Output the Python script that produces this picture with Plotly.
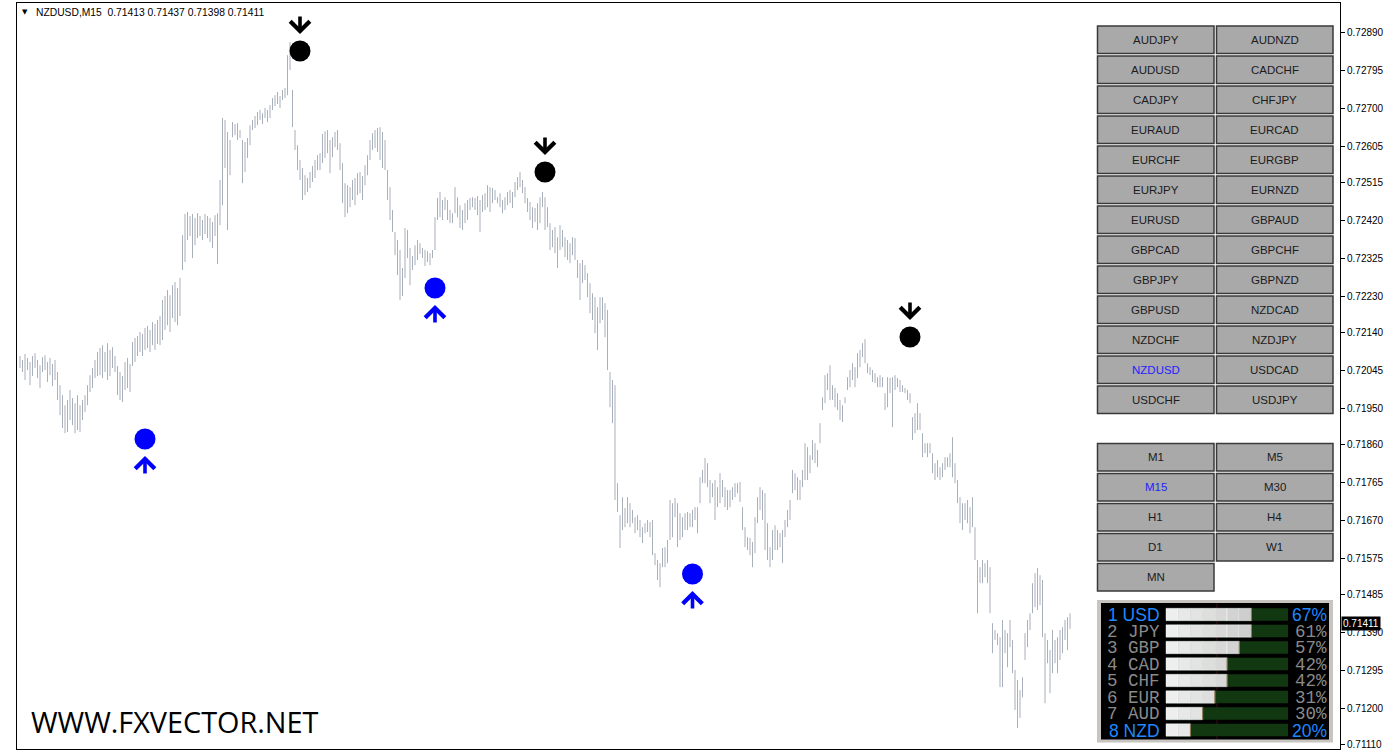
import math

import plotly.graph_objs as go

# header of the chart window
SYMBOL = "NZDUSD,M15"
LAST_OHLC = ["0.71413", "0.71437", "0.71398", "0.71411"]
LAST_PRICE = 0.71411
WATERMARK = "WWW.FXVECTOR.NET"

# M15 bars, left to right: high / low in points above 0.71000
bar_high = [
    1080, 1070, 1085, 1075, 1065, 1080, 1087, 1070, 1057, 1077, 1082, 1065, 1075, 1060, 1070,
    1040, 1007, 982, 957, 970, 995, 975, 962, 982, 957,
    970, 982, 1007, 1032, 1050, 1070, 1090,
    1100, 1107, 1090, 1112, 1095, 1102, 1080,
    1055, 1040, 1030, 1065, 1075, 1060,
    1115, 1125, 1130, 1140, 1135, 1150, 1155, 1145, 1165, 1160, 1170,
    1180, 1220, 1230, 1245, 1232, 1257, 1265, 1250, 1275,
    1382, 1435, 1440, 1430, 1435, 1425, 1437, 1430, 1420, 1435, 1430, 1425, 1415, 1432, 1437,
    1520, 1675, 1670, 1640, 1620,
    1665, 1660, 1662, 1645, 1620, 1615, 1625, 1657,
    1670, 1680, 1690, 1695, 1687, 1700, 1695, 1707, 1725, 1732, 1740, 1730, 1745, 1750,
    1832, 1865,
    1745, 1645, 1607, 1570, 1550, 1532,
    1525, 1540, 1555, 1570, 1582,
    1587, 1635, 1642, 1645, 1620, 1627, 1640, 1645,
    1612, 1562, 1512,
    1507, 1502, 1520, 1525, 1537, 1540, 1530, 1557,
    1582, 1620, 1637, 1645, 1650, 1652, 1640, 1620,
    1545, 1502, 1445,
    1390, 1370, 1345, 1300, 1400, 1395, 1350,
    1330, 1357, 1370, 1362, 1350, 1345, 1342, 1337, 1345,
    1427, 1475, 1490, 1470, 1477, 1470, 1445, 1437,
    1502, 1477, 1457, 1445, 1462, 1470, 1475, 1477, 1475, 1480, 1470, 1482,
    1487, 1507, 1502, 1500, 1495, 1477, 1487, 1470, 1477, 1490, 1495, 1490,
    1515, 1527, 1540, 1520,
    1502, 1475, 1465, 1452, 1450, 1462, 1477, 1490,
    1477, 1452, 1412, 1395, 1402, 1377, 1407, 1395, 1377, 1370, 1362, 1377,
    1375, 1320, 1312, 1320, 1307, 1287, 1262, 1237, 1227, 1202, 1227, 1227, 1212, 1195,
    1040, 1020, 1007,
    762, 682, 727, 700, 727,
    712, 695, 677, 682, 670, 652, 662, 670, 665, 670,
    587, 570, 562, 600, 602, 620,
    720, 712, 725, 712, 687, 677, 687, 690, 687, 695, 702,
    702, 777, 795, 825, 812,
    770, 762, 770, 752, 787, 770, 752, 745, 745, 752, 762, 762, 765,
    702, 652, 627, 625, 615,
    677, 727, 752, 745, 737,
    662, 602, 645, 657, 645, 637, 645,
    670, 695, 720, 795, 787, 777, 770, 795, 862,
    852, 832, 870, 862, 845, 912,
    977, 1032, 1037, 1057,
    1007, 1000, 987, 970, 957, 977,
    1027, 1045, 1062, 1052, 1087, 1095, 1112, 1122,
    1062, 1052, 1045, 1037, 1027, 1032, 1027, 987, 1027, 1025, 1027, 1032, 1025, 1020, 1007, 1000, 995, 987,
    927, 937, 962, 937, 887, 862, 862, 862,
    837, 812, 820, 802, 812, 827, 827, 837, 877,
    812, 770, 727, 712, 712, 720, 702, 727,
    652, 570, 552, 570, 562, 570, 552,
    412, 395, 387, 377, 420, 395, 387, 420, 370,
    295, 270, 245, 277,
    387, 420, 437, 512, 537, 550, 532, 520,
    387, 370, 345, 395, 370, 377, 395, 402,
    420, 427, 437,
]
bar_low = [
    1050, 1040, 1020, 1045, 1007, 1030, 1050, 1025, 1000, 1040, 1045, 1015, 1032, 1005, 1020,
    970, 932, 900, 887, 890, 920, 907, 887, 895, 890,
    920, 940, 957, 990, 1000, 1025, 1030,
    1032, 1025, 1040, 1020, 1030, 1050, 1040,
    982, 970, 965, 995, 1000, 990,
    1055, 1065, 1080, 1090, 1080, 1095, 1100, 1090, 1107, 1095, 1110,
    1107, 1120, 1145, 1157, 1140, 1175, 1165, 1157, 1180,
    1295, 1315, 1370, 1380, 1325, 1357, 1375, 1380, 1370, 1385, 1375, 1365, 1350, 1380, 1310,
    1407, 1457, 1550, 1395, 1532,
    1627, 1632, 1620, 1625, 1512, 1540, 1575, 1607,
    1645, 1650, 1657, 1670, 1660, 1675, 1665, 1675, 1695, 1705, 1710, 1700, 1720, 1725,
    1732, 1795,
    1652, 1595, 1545, 1520, 1470, 1482,
    1490, 1500, 1515, 1525, 1545,
    1545, 1562, 1575, 1587, 1537, 1577, 1602, 1595,
    1545, 1462, 1427,
    1437, 1452, 1470, 1457, 1482, 1487, 1470, 1507,
    1532, 1570, 1595, 1600, 1590, 1570, 1550, 1545,
    1470, 1420, 1390,
    1332, 1282, 1220, 1230, 1275, 1325, 1257,
    1295, 1307, 1320, 1335, 1325, 1305, 1315, 1307, 1325,
    1345, 1420, 1427, 1420, 1445, 1420, 1412, 1412,
    1437, 1427, 1400, 1395, 1412, 1420, 1445, 1452, 1445, 1432, 1390, 1440,
    1445, 1452, 1440, 1462, 1470, 1462, 1452, 1437, 1445, 1457, 1462, 1450,
    1477, 1495, 1502, 1487,
    1462, 1440, 1420, 1400, 1415, 1395, 1412, 1452,
    1395, 1402, 1345, 1352, 1337, 1300, 1345, 1352, 1327, 1320, 1312, 1332,
    1320, 1275, 1220, 1262, 1270, 1227, 1187, 1170, 1137, 1095, 1162, 1170, 1127, 1045,
    952, 912, 720,
    690, 600, 645, 652, 662,
    652, 662, 637, 645, 627, 612, 637, 640, 627, 582,
    557, 520, 502, 552, 552, 562,
    620, 627, 677, 602, 620, 627, 645, 645, 652, 652, 670,
    637, 712, 762, 762, 752,
    712, 727, 670, 702, 712, 727, 702, 695, 702, 720, 727, 737, 715,
    645, 602, 595, 582, 552,
    587, 662, 695, 670, 595,
    570, 552, 570, 595, 595, 602, 562,
    627, 652, 670, 737, 745, 720, 720, 752, 770,
    770, 787, 820, 812, 802, 862,
    945, 962, 995, 970,
    970, 952, 945, 920, 915, 962,
    995, 1002, 1020, 1002, 1025, 1052, 1077, 1062,
    1037, 1032, 1015, 1012, 1002, 1002, 1002, 945, 952, 987, 902, 995, 1002, 990, 990, 987, 970, 962,
    870, 887, 895, 895, 827, 837, 827, 837,
    787, 770, 777, 770, 777, 795, 802, 802, 777,
    762, 712, 662, 645, 670, 662, 637, 652,
    570, 437, 512, 512, 527, 512, 437,
    337, 370, 357, 252, 252, 337, 302, 352, 287,
    195, 150, 175, 227,
    320, 352, 395, 437, 452, 445, 457, 377,
    212, 312, 237, 287, 312, 287, 320, 337,
    370, 345, 398,
]

# indicator signals: bar index and price of the dot
up_idx = [50, 166, 269]
up_price = [0.718725, 0.72250, 0.71535]
dn_idx = [112, 210, 356]
dn_price = [0.728425, 0.72540, 0.721275]

price_ticks = [
    "0.72890", "0.72795", "0.72700", "0.72605", "0.72515", "0.72420", "0.72325",
    "0.72230", "0.72140", "0.72045", "0.71950", "0.71860", "0.71765", "0.71670",
    "0.71575", "0.71485", "0.71390", "0.71295", "0.71200", "0.71110",
]

pairs = [
    "AUDJPY", "AUDNZD", "AUDUSD", "CADCHF", "CADJPY", "CHFJPY", "EURAUD", "EURCAD",
    "EURCHF", "EURGBP", "EURJPY", "EURNZD", "EURUSD", "GBPAUD", "GBPCAD", "GBPCHF",
    "GBPJPY", "GBPNZD", "GBPUSD", "NZDCAD", "NZDCHF", "NZDJPY", "NZDUSD", "USDCAD",
    "USDCHF", "USDJPY",
]
timeframes = ["M1", "M5", "M15", "M30", "H1", "H4", "D1", "W1", "MN"]
ACTIVE_PAIR = "NZDUSD"
ACTIVE_TF = "M15"

currencies = ["USD", "JPY", "GBP", "CAD", "CHF", "EUR", "AUD", "NZD"]
strength = [67, 61, 57, 42, 42, 31, 30, 20]

# page geometry (pixels)
W, H = 1400, 750
M_L, M_R, M_T, M_B = 17, 60, 3, 1
PLOT_W = W - M_L - M_R
PLOT_H = H - M_T - M_B
BAR_COLOR = "#A8B0BB"


def px(x):
    return (x - M_L) / PLOT_W


def py(y):
    return 1 - (y - M_T) / PLOT_H


def add_bars(fig):
    """Bar chart drawn as high-low sticks."""
    xs, ys = [], []
    for i, (h, l) in enumerate(zip(bar_high, bar_low)):
        xs += [i, i, None]
        ys += [0.71 + l / 1e5, 0.71 + h / 1e5, None]
    fig.add_trace(go.Scatter(x=xs, y=ys, mode="lines", line=dict(color=BAR_COLOR, width=1),
                             hoverinfo="skip", showlegend=False))


def add_signals(fig):
    fig.add_trace(go.Scatter(x=up_idx, y=up_price, mode="markers",
                             marker=dict(size=21, color="#0000FF"), showlegend=False))
    fig.add_trace(go.Scatter(x=dn_idx, y=dn_price, mode="markers",
                             marker=dict(size=21, color="#000000"), showlegend=False))
    for i, p in zip(up_idx, up_price):
        fig.add_annotation(x=i, y=p, text="", showarrow=True, arrowhead=4, arrowsize=1.05,
                           arrowwidth=3.6, arrowcolor="#0000FF", ax=0, ay=19, yshift=-17)
    for i, p in zip(dn_idx, dn_price):
        fig.add_annotation(x=i, y=p, text="", showarrow=True, arrowhead=4, arrowsize=1.05,
                           arrowwidth=3.6, arrowcolor="#000000", ax=0, ay=-19, yshift=17)


def add_button(fig, x0, y0, x1, y1, label, active):
    fig.add_shape(type="rect", xref="paper", yref="paper", x0=px(x0), x1=px(x1), y0=py(y1), y1=py(y0),
                  fillcolor="#A9A9A9", line=dict(color="#3A3A3A", width=1.5), layer="above")
    fig.add_annotation(xref="paper", yref="paper", x=px((x0 + x1) / 2), y=py((y0 + y1) / 2),
                       text=label, showarrow=False, xanchor="center", yanchor="middle",
                       font=dict(family="Liberation Sans", size=11.5, color="#2222FF" if active else "#1C1C1C"))


def add_buttons(fig):
    cols = [(1097.5, 1214), (1216.5, 1333)]
    for k, name in enumerate(pairs):
        r, c = divmod(k, 2)
        top = 26 + 30 * r
        add_button(fig, cols[c][0], top, cols[c][1], top + 27.5, name, name == ACTIVE_PAIR)
    for k, name in enumerate(timeframes):
        r, c = divmod(k, 2)
        top = 443.5 + 30 * r
        add_button(fig, cols[c][0], top, cols[c][1], top + 27.5, name, name == ACTIVE_TF)


def add_strength_panel(fig):
    """Currency strength meter in the lower right corner."""
    def rect(x0, y0, x1, y1, fill, line=None):
        fig.add_shape(type="rect", xref="paper", yref="paper", x0=px(x0), x1=px(x1), y0=py(y1), y1=py(y0),
                      fillcolor=fill, line=line or dict(width=0), layer="above")

    rect(1097, 600, 1333, 742.5, "#C8C4C0")
    rect(1101, 603, 1329, 739.5, "#000000")
    fig.add_shape(type="line", xref="paper", yref="paper", x0=px(1217), x1=px(1217), y0=py(739), y1=py(603),
                  line=dict(color="#3A0E0E", width=1), layer="above")
    bx0, bx1 = 1166, 1288
    blk = (bx1 - bx0) / 10
    for r, (cur, val) in enumerate(zip(currencies, strength)):
        cy = 614.5 + 16.5 * r
        rect(bx0, cy - 6.2, bx1, cy + 6.2, "#123812")
        n = math.ceil(val / 10)
        for k in range(n):
            g = int(238 - 48 * k / 9)
            rect(bx0 + k * blk, cy - 6.2, bx0 + (k + 1) * blk, cy + 6.2, f"rgb({g},{g},{g})",
                 dict(color="rgba(255,255,255,0.7)", width=0.6))
        fig.add_shape(type="line", xref="paper", yref="paper", x0=px(bx0 + n * blk), x1=px(bx0 + n * blk),
                      y0=py(cy + 6.2), y1=py(cy - 6.2), line=dict(color="#8C7452", width=1), layer="above")
        edge = r in (0, len(currencies) - 1)
        if edge:
            font = dict(family="Liberation Sans", size=17.5, color="#1E88FF")
        else:
            font = dict(family="Liberation Mono", size=17.5, color="#8A8A8A")
        # rows are tighter than a text line, so the text boxes get an explicit height
        fig.add_annotation(xref="paper", yref="paper", x=px(1161), y=py(cy + 0.5), text=f"{r + 1} {cur}",
                           showarrow=False, xanchor="right", yanchor="middle", font=font, borderpad=0,
                           height=16)
        fig.add_annotation(xref="paper", yref="paper", x=px(1328), y=py(cy + 0.5), text=f"{val}%",
                           showarrow=False, xanchor="right", yanchor="middle", font=font, borderpad=0,
                           height=16)


n_bars = len(bar_high)
step = (1070 - 20) / (n_bars - 1)
x_range = [(M_L - 20) / step, (M_L + PLOT_W - 20) / step]

fig = go.Figure()
add_bars(fig)
add_signals(fig)
add_buttons(fig)
add_strength_panel(fig)

# header line and watermark
fig.add_annotation(xref="paper", yref="paper", x=px(25), y=py(12), text="▼", showarrow=False,
                   xanchor="center", yanchor="middle", font=dict(family="DejaVu Sans", size=7, color="#000"))
fig.add_annotation(xref="paper", yref="paper", x=px(34), y=py(12),
                   text=SYMBOL + "\u00a0\u00a0" + " ".join(LAST_OHLC), showarrow=False,
                   xanchor="left", yanchor="middle", font=dict(family="Liberation Sans", size=10.3, color="#000"))
fig.add_annotation(xref="paper", yref="paper", x=px(29), y=py(721), text=WATERMARK, showarrow=False,
                   xanchor="left", yanchor="middle", font=dict(family="Open Sans", size=28.8, color="#000"))

# current price tag on the price scale
fig.add_annotation(xref="paper", yref="y", x=px(1341), y=LAST_PRICE, text=f"{LAST_PRICE:.5f}",
                   showarrow=False, xanchor="left", yanchor="middle", bgcolor="#000000", borderpad=1,
                   font=dict(family="Liberation Sans", size=10, color="#FFFFFF"))

fig.update_layout(
    template="none",
    width=W,
    height=H,
    margin=dict(l=M_L, r=M_R, t=M_T, b=M_B, autoexpand=False),
    plot_bgcolor="white",
    paper_bgcolor="white",
    showlegend=False,
    hovermode=False,
    xaxis=dict(range=x_range, showgrid=False, zeroline=False, showticklabels=False, ticks="",
               showline=True, mirror=True, linecolor="#000", linewidth=1, automargin=False),
    yaxis=dict(range=[0.710975, 0.729625], side="right", showgrid=False, zeroline=False,
               tickmode="array", tickvals=[float(t) for t in price_ticks], ticktext=price_ticks,
               ticks="outside", ticklen=4, tickcolor="#000", tickwidth=1,
               tickfont=dict(family="Liberation Sans", size=10, color="#000"),
               showline=True, mirror=True, linecolor="#000", linewidth=1, automargin=False),
)

# the page body has a default 8px margin; drop it so the figure fills the window
fig.write_html("out.html", config={"displayModeBar": False},
               post_script="document.body.style.margin='0';")
